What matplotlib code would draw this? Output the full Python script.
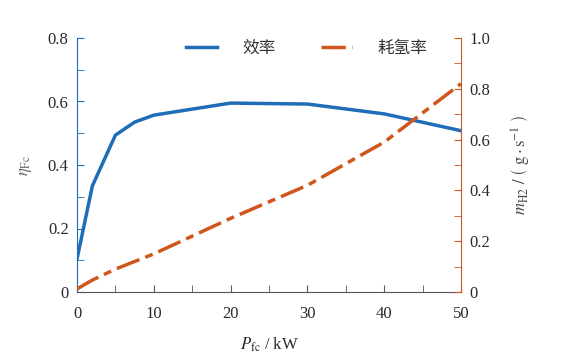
import matplotlib
matplotlib.use("Agg")
import matplotlib.pyplot as plt
from matplotlib.ticker import MultipleLocator

plt.rcParams['font.family'] = ['Liberation Serif', 'Noto Sans CJK SC']
plt.rcParams['mathtext.fontset'] = 'stix'

p_eff = [0, 2, 5, 7.5, 10, 20, 30, 40, 50]
eff = [0.104, 0.334, 0.494, 0.535, 0.557, 0.595, 0.592, 0.561, 0.508]
p_h2 = [0, 2, 5, 10, 20, 30, 40, 50]
h2 = [0.012, 0.047, 0.09, 0.15, 0.29, 0.42, 0.59, 0.82]

blue = '#1f6db8'
orange = '#d0561c'
gray = '#2a2a2a'

fig = plt.figure(figsize=(5.84, 3.58), dpi=100)
ax = fig.add_axes([77/584, 1-292/358, 384/584, 254/358])
ax2 = ax.twinx()

l1, = ax.plot(p_eff, eff, color=blue, lw=2.5, label='效率')
l2, = ax2.plot(p_h2, h2, color=orange, lw=2.5, dashes=(7, 1.8, 2.3, 1.8), label='耗氢率')

ax.set_xlim(0, 50)
ax.set_ylim(0, 0.8)
ax2.set_ylim(0, 1.0)
ax.xaxis.set_major_locator(MultipleLocator(10))
ax.xaxis.set_minor_locator(MultipleLocator(5))
ax.yaxis.set_major_locator(MultipleLocator(0.2))
ax.yaxis.set_minor_locator(MultipleLocator(0.1))
ax2.yaxis.set_major_locator(MultipleLocator(0.2))
ax2.yaxis.set_minor_locator(MultipleLocator(0.1))

ax.xaxis.set_major_formatter(lambda v, p: '%d' % v)
ax.yaxis.set_major_formatter(lambda v, p: '0' if abs(v) < 1e-9 else '%.1f' % v)
ax2.yaxis.set_major_formatter(lambda v, p: '0' if abs(v) < 1e-9 else '%.1f' % v)

for a in (ax, ax2):
    a.spines['top'].set_visible(False)
ax.spines['right'].set_visible(False)
ax2.spines['left'].set_visible(False)
ax2.spines['bottom'].set_visible(False)
ax.spines['left'].set_color(blue)
ax.spines['bottom'].set_color('#555555')
ax2.spines['right'].set_color(orange)

ax.tick_params(axis='x', which='both', direction='in', colors='#555555', labelcolor=gray, labelsize=12, length=5, pad=10)
ax.tick_params(axis='y', which='both', direction='in', colors=blue, labelcolor=gray, labelsize=12, length=5, pad=6)
ax2.tick_params(axis='y', which='both', direction='in', colors=orange, labelcolor=gray, labelsize=12, length=5, pad=6)

ax.set_xlabel(r'$P_{\mathrm{fc}}$ / kW', fontsize=12, color=gray, labelpad=10)
ax.set_ylabel(r'$\eta_{\mathrm{Fc}}$', fontsize=12, color='#666666', labelpad=10)
ax2.set_ylabel(r'$m_{\mathrm{H2}}\ /\ \left(\ \mathrm{g}\cdot\mathrm{s}^{-1}\ \right)$', fontsize=12, color='#444444', labelpad=14)

leg = ax.legend(handles=[l1, l2], loc='upper left', bbox_to_anchor=(0.266, 1.02), borderaxespad=0, ncol=2, frameon=False,
                prop={'family': ['Noto Sans CJK SC'], 'size': 12, 'weight': 'light'},
                handlelength=1.9, columnspacing=2.7, handletextpad=1.5)
for t in leg.get_texts():
    t.set_color('#333333')

fig.savefig('out.png', dpi=100)
